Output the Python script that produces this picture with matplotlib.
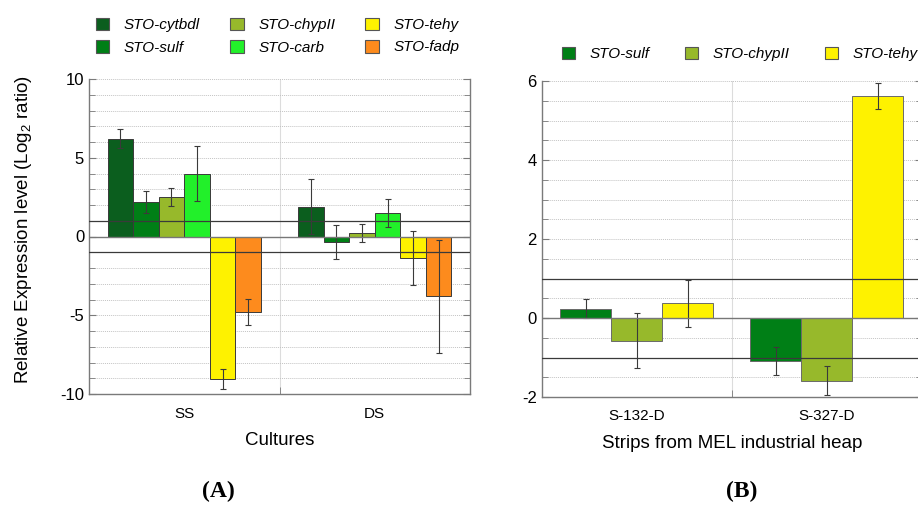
import matplotlib

matplotlib.use("Agg")
import matplotlib.pyplot as plt
import numpy as np
from matplotlib.patches import Patch

plt.rcParams["font.family"] = ["Liberation Sans", "DejaVu Sans"]
plt.rcParams["axes.unicode_minus"] = False

# panel A data
cultures = ["SS", "DS"]
genes_a = ["STO-cytbdl", "STO-sulf", "STO-chypII", "STO-carb", "STO-tehy", "STO-fadp"]
colors_a = ["#0b5e1e", "#007f16", "#97b92b", "#22f02a", "#fef200", "#fd8b1d"]
vals_a = [
    [6.2, 1.9],     # cytbdl
    [2.2, -0.35],   # sulf
    [2.5, 0.2],     # chypII
    [4.0, 1.5],     # carb
    [-9.05, -1.35], # tehy
    [-4.8, -3.8],   # fadp
]
errs_a = [
    [0.6, 1.75],
    [0.7, 1.1],
    [0.55, 0.57],
    [1.75, 0.9],
    [0.65, 1.7],
    [0.85, 3.6],
]

# panel B data
strips = ["S-132-D", "S-327-D"]
genes_b = ["STO-sulf", "STO-chypII", "STO-tehy"]
colors_b = ["#007f16", "#97b92b", "#fef200"]
vals_b = [
    [0.24, -1.09],
    [-0.57, -1.59],
    [0.37, 5.63],
]
errs_b = [
    [0.25, 0.36],
    [0.7, 0.37],
    [0.6, 0.33],
]

SPINE = "#7a7a7a"
GRID = "#c4c4c4"


def draw_panel(ax, cats, genes, colors, vals, errs, width, edge):
    x = np.arange(len(cats))
    n = len(genes)
    for i in range(n):
        off = (i - (n - 1) / 2) * width
        ax.bar(x + off, vals[i], width, color=colors[i], edgecolor=edge,
               linewidth=0.7, zorder=3)
        ax.errorbar(x + off, vals[i], yerr=errs[i], fmt="none", ecolor="#3a3a3a",
                    elinewidth=0.8, capsize=2.5, capthick=0.8, zorder=4)
    ax.set_xlim(-0.5, len(cats) - 0.5)
    ax.set_xticks(x)
    ax.set_xticklabels(cats, fontsize=11)
    ax.tick_params(axis="x", length=0, pad=9)
    ax.set_xticks([0.5], minor=True)
    ax.tick_params(axis="x", which="minor", direction="in", length=5, color=SPINE)
    ax.axvline(0.5, color="#dcdcdc", lw=0.8, zorder=1)
    ax.axhline(1, color="#3a3a3a", lw=0.9, zorder=5)
    ax.axhline(-1, color="#3a3a3a", lw=0.9, zorder=5)
    ax.axhline(0, color="#777777", lw=1.0, zorder=5)
    ax.grid(axis="y", which="both", color=GRID, linestyle=(0, (1, 1)), lw=0.7, zorder=0)
    ax.tick_params(axis="y", which="both", direction="in", right=True, color=SPINE,
                   labelsize=12)
    ax.tick_params(axis="y", which="major", length=5)
    ax.tick_params(axis="y", which="minor", length=4)
    ax.spines["top"].set_visible(False)
    for s in ["left", "right", "bottom"]:
        ax.spines[s].set_color(SPINE)
        ax.spines[s].set_linewidth(1.0)


fig = plt.figure(figsize=(9.18, 5.05), dpi=100)

ax_a = fig.add_axes([89 / 918, 111 / 505, 381 / 918, 315 / 505])
draw_panel(ax_a, cultures, genes_a, colors_a, vals_a, errs_a, 0.134, "#3a3a3a")
ax_a.set_ylim(-10, 10)
ax_a.set_yticks([-10, -5, 0, 5, 10])
ax_a.set_yticks(np.arange(-10, 11, 1), minor=True)
ax_a.set_xlabel("Cultures", fontsize=13.5, labelpad=8)
ax_a.set_ylabel("Relative Expression level (Log$_{\\mathregular{2}}$ ratio)",
                fontsize=13.5)
ax_a.yaxis.set_label_coords(-0.145, 0.522)

ax_b = fig.add_axes([541.7 / 918, 108 / 505, 380.3 / 918, 316 / 505])
draw_panel(ax_b, strips, genes_b, colors_b, vals_b, errs_b, 0.268, "#6a6a6a")
ax_b.set_ylim(-2, 6)
ax_b.set_yticks([-2, 0, 2, 4, 6])
ax_b.set_yticks(np.arange(-2, 6.01, 0.5), minor=True)
ax_b.set_xlabel("Strips from MEL industrial heap", fontsize=13.5, labelpad=8)

handles_a = [Patch(facecolor=c, edgecolor="#555555", lw=0.8) for c in colors_a]
fig.legend(handles_a, genes_a, loc="upper left", bbox_to_anchor=(88 / 918, 1 - 10 / 505),
           ncol=3, frameon=False, borderpad=0, prop={"style": "italic", "size": 11},
           handlelength=0.9, handleheight=0.9, handletextpad=0.95,
           columnspacing=1.95, labelspacing=0.5)

handles_b = [Patch(facecolor=c, edgecolor="#555555", lw=0.8) for c in colors_b]
fig.legend(handles_b, genes_b, loc="upper left", bbox_to_anchor=(554 / 918, 1 - 39 / 505),
           ncol=3, frameon=False, borderpad=0, prop={"style": "italic", "size": 11},
           handlelength=0.85, handleheight=0.85, handletextpad=0.95,
           columnspacing=2.35)

fig.text(218 / 918, 1 - 491 / 505, "(A)", fontsize=17, fontweight="bold",
         family=["Liberation Serif", "DejaVu Serif"], ha="center", va="center")
fig.text(742 / 918, 1 - 491 / 505, "(B)", fontsize=17, fontweight="bold",
         family=["Liberation Serif", "DejaVu Serif"], ha="center", va="center")

fig.savefig("out.png", dpi=100)
